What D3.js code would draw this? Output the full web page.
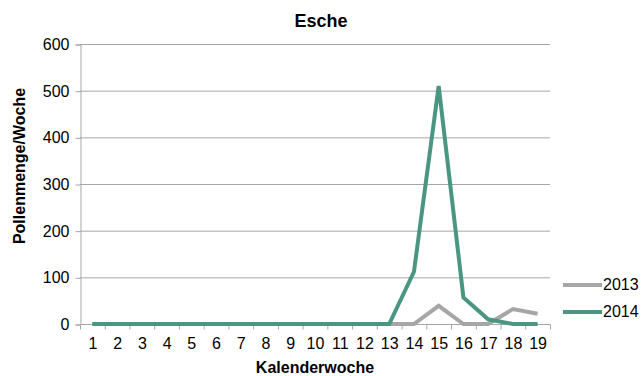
<!DOCTYPE html>
<html>
<head>
<meta charset="utf-8">
<script src="https://cdn.jsdelivr.net/npm/d3@7"></script>
<style>
  html, body { margin: 0; padding: 0; background: #fff; }
  svg { display: block; font-family: "Liberation Sans", Arial, sans-serif; }
</style>
</head>
<body>
<svg id="chart" width="643" height="376"></svg>
<script>
// Calendar weeks on the x axis
const weeks = [1, 2, 3, 4, 5, 6, 7, 8, 9, 10, 11, 12, 13, 14, 15, 16, 17, 18, 19];
// Ash pollen count per week
const values2013 = [0, 0, 0, 0, 0, 0, 0, 0, 0, 0, 0, 0, 0, 0, 39, 0, 0, 32, 22];
const values2014 = [0, 0, 0, 0, 0, 0, 0, 0, 0, 0, 0, 0, 0, 112, 510, 57, 10, 0, 0];
const yTicks = [0, 100, 200, 300, 400, 500, 600];
const seriesNames = ["2013", "2014"];
const seriesColors = ["#a6a6a6", "#4a9683"];

const svg = d3.select("#chart");
const plot = { left: 80, right: 550, top: 44, bottom: 324 };

const x = d3.scaleBand().domain(weeks).range([plot.left, plot.right]);
const y = d3.scaleLinear().domain([0, 600]).range([plot.bottom, plot.top]);
const gridColor = "#a6a6a6";

// Horizontal gridlines
svg.append("g")
  .selectAll("line")
  .data(yTicks.filter(d => d > 0))
  .join("line")
  .attr("x1", plot.left).attr("x2", plot.right)
  .attr("y1", d => y(d) + 0.5).attr("y2", d => y(d) + 0.5)
  .attr("stroke", gridColor).attr("stroke-width", 1);

// Y axis
const yAxis = svg.append("g")
  .attr("transform", `translate(${plot.left + 0.5},0.5)`)
  .call(d3.axisLeft(y).tickValues(yTicks).tickSize(5).tickPadding(6));
yAxis.select(".domain").attr("stroke", gridColor);
yAxis.selectAll(".tick line").attr("stroke", gridColor);
yAxis.selectAll("text").attr("font-size", 16).attr("fill", "#000")
  .attr("font-family", "Liberation Sans, Arial, sans-serif");

// X axis: ticks between categories
const xg = svg.append("g").attr("transform", `translate(0.5,${plot.bottom + 0.5})`);
xg.append("line").attr("x1", plot.left).attr("x2", plot.right)
  .attr("stroke", gridColor);
const bounds = weeks.map(w => x(w)).concat([plot.right]);
xg.selectAll("line.tk").data(bounds).join("line").attr("class", "tk")
  .attr("x1", d => d).attr("x2", d => d).attr("y1", 0).attr("y2", 5)
  .attr("stroke", gridColor);
xg.selectAll("text").data(weeks).join("text")
  .attr("x", d => x(d) + x.bandwidth() / 2)
  .attr("y", 24.5)
  .attr("text-anchor", "middle")
  .attr("font-size", 16)
  .text(d => d);

// Lines
const line = d3.line()
  .x((d, i) => x(weeks[i]) + x.bandwidth() / 2)
  .y(d => y(d));
[values2013, values2014].forEach((vals, i) => {
  svg.append("path")
    .datum(vals)
    .attr("fill", "none")
    .attr("stroke", seriesColors[i])
    .attr("stroke-width", 4)
    .attr("stroke-linejoin", "miter")
    .attr("d", line);
});

// Title
svg.append("text")
  .attr("x", 321).attr("y", 27)
  .attr("text-anchor", "middle")
  .attr("font-size", 18).attr("font-weight", "bold")
  .text("Esche");

// Axis titles
svg.append("text")
  .attr("transform", "translate(25,166) rotate(-90)")
  .attr("text-anchor", "middle")
  .attr("font-size", 16).attr("font-weight", "bold")
  .text("Pollenmenge/Woche");
svg.append("text")
  .attr("x", 315).attr("y", 373)
  .attr("text-anchor", "middle")
  .attr("font-size", 16).attr("font-weight", "bold")
  .text("Kalenderwoche");

// Legend
const legend = svg.append("g");
seriesNames.forEach((name, i) => {
  const ly = 285 + i * 27;
  legend.append("line")
    .attr("x1", 563).attr("x2", 602)
    .attr("y1", ly).attr("y2", ly)
    .attr("stroke", seriesColors[i]).attr("stroke-width", 4);
  legend.append("text")
    .attr("x", 603).attr("y", ly + 5)
    .attr("font-size", 16)
    .text(name);
});
</script>
</body>
</html>
